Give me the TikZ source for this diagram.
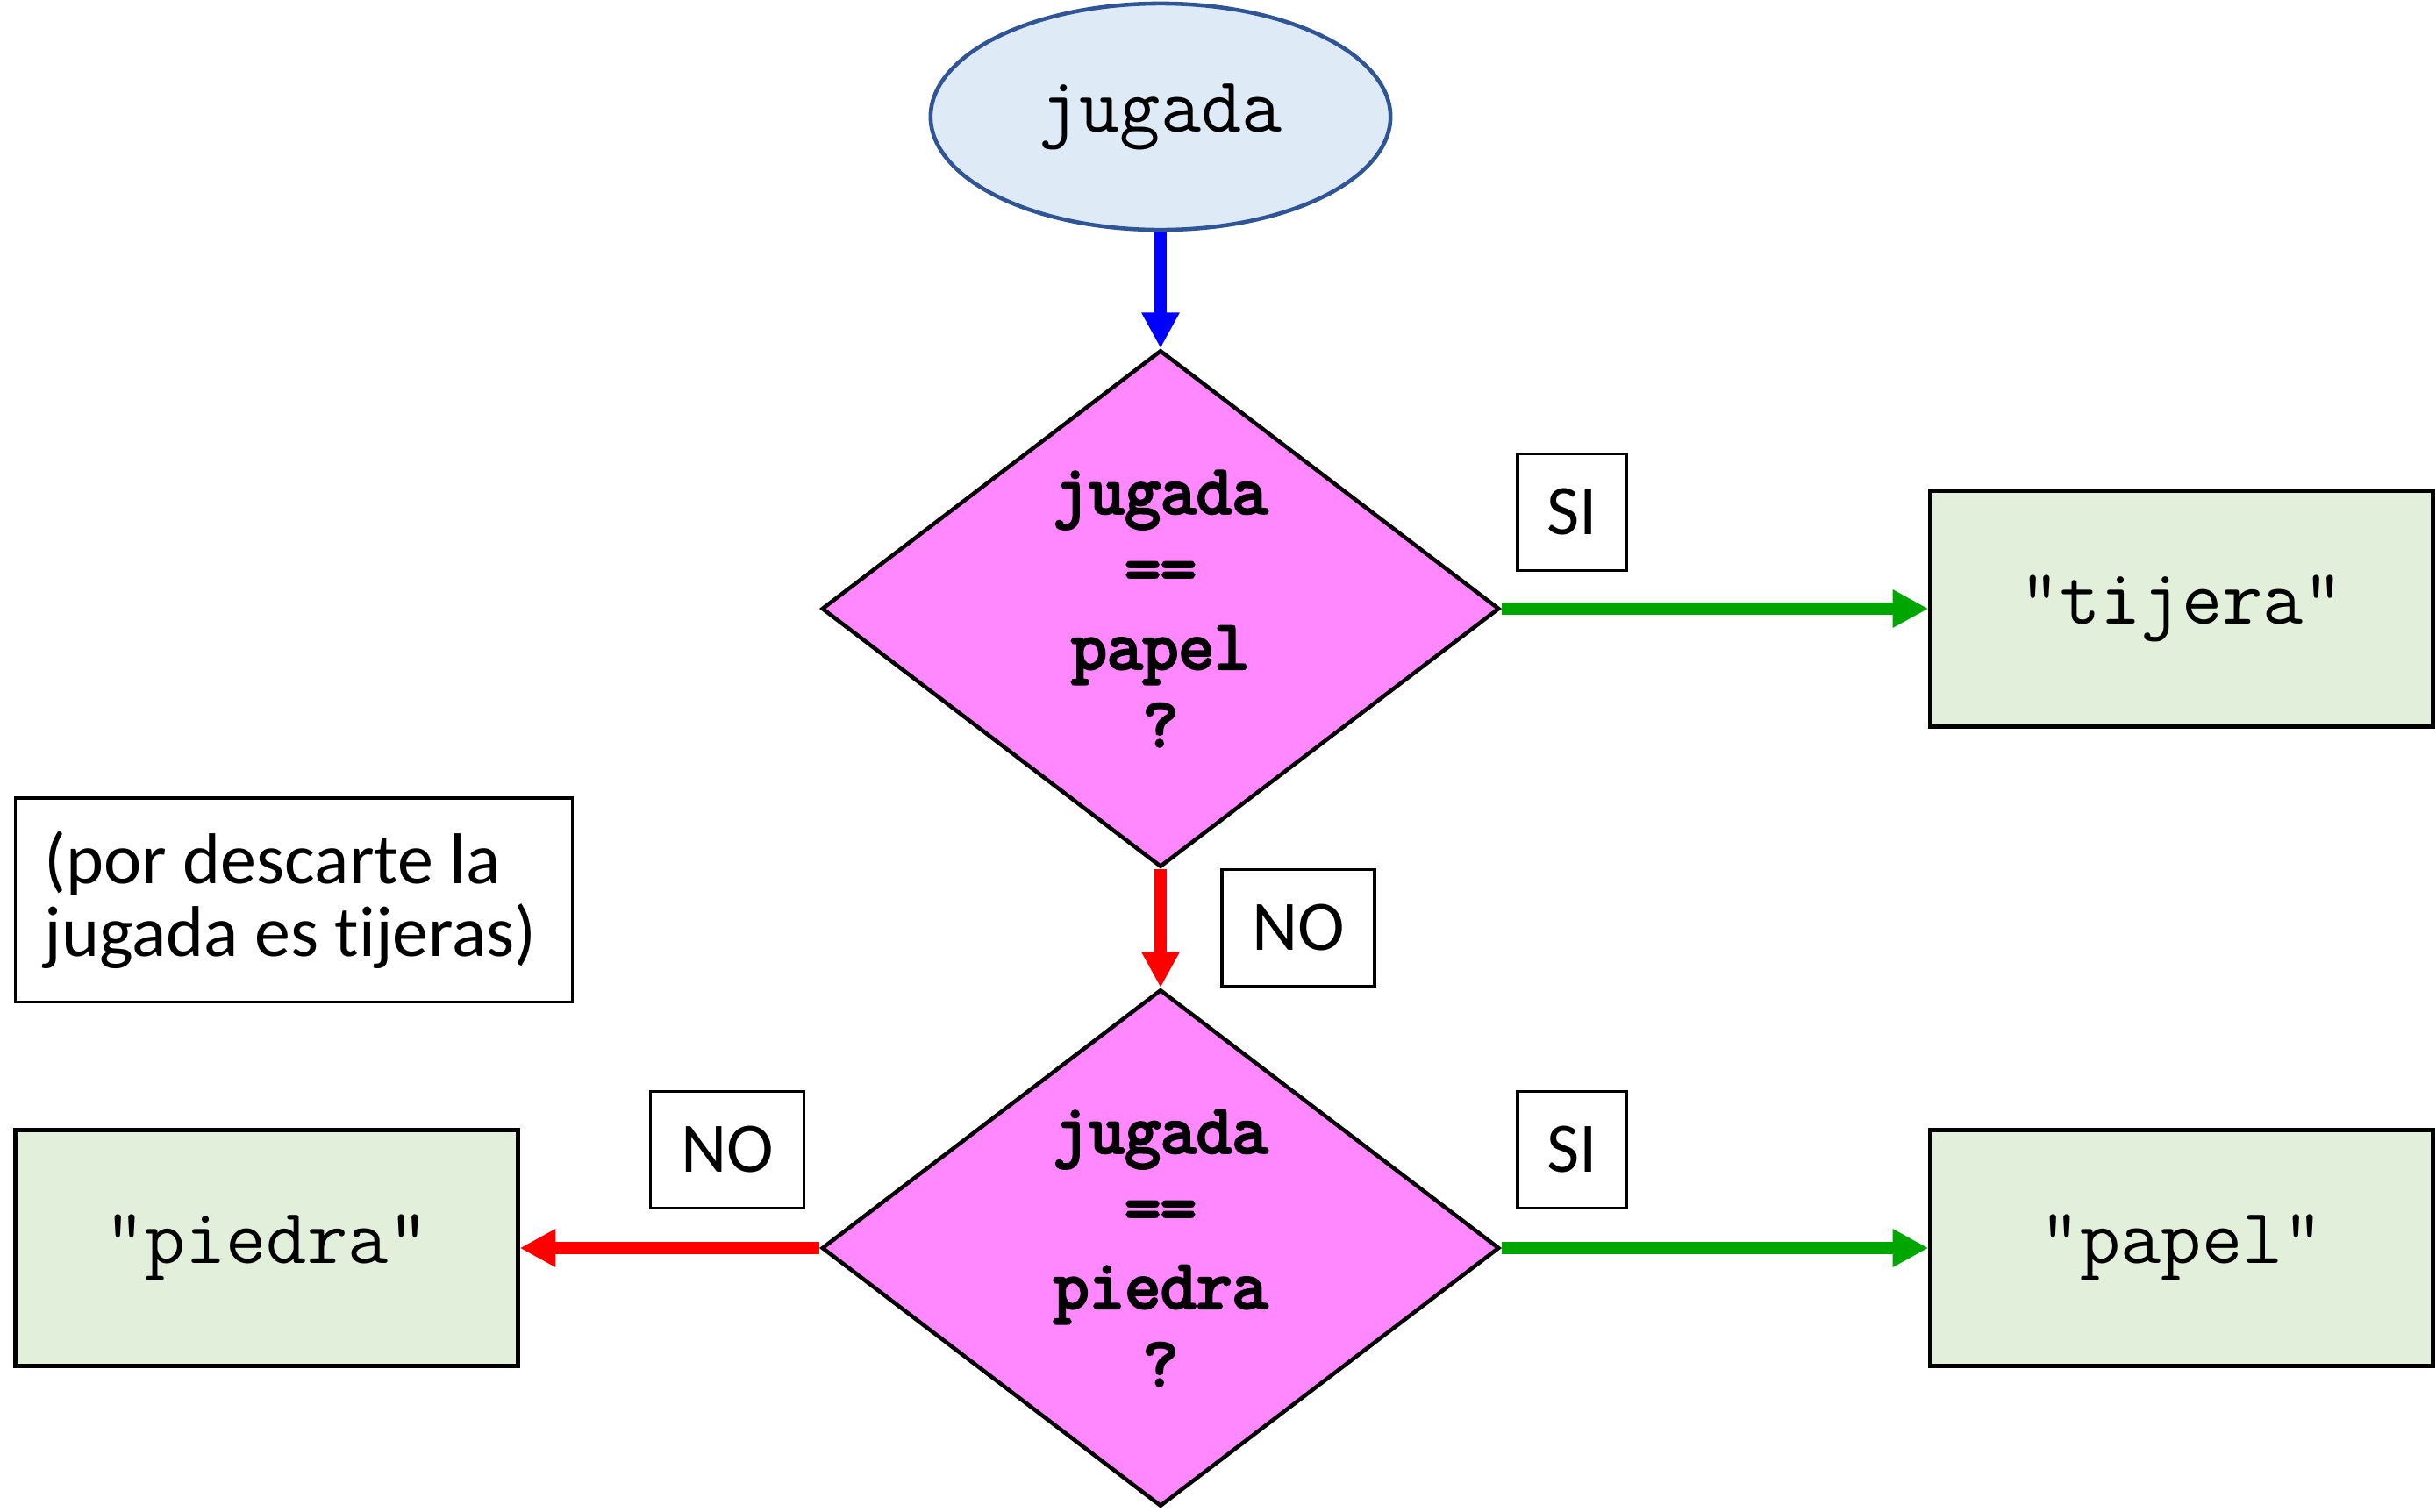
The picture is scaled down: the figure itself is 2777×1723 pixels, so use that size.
\documentclass[tikz,border=0pt]{standalone}
\usepackage{fontspec}
\setmainfont{Carlito}[Ligatures=NoCommon]
\setmonofont{Latin Modern Mono}
\newfontfamily\dfont{Latin Modern Mono}[FakeBold=4]
\usetikzlibrary{shapes.geometric,arrows.meta}
\definecolor{ellfill}{HTML}{DEEAF6}
\definecolor{elldraw}{HTML}{2F5597}
\definecolor{diafill}{HTML}{FF88FF}
\definecolor{boxfill}{HTML}{E2EFDA}
\definecolor{arrgreen}{HTML}{00A600}
\definecolor{arrred}{HTML}{FF0000}
\definecolor{arrblue}{HTML}{0000FF}
\tikzset{
  startnode/.style={ellipse, draw=elldraw, fill=ellfill, line width=1.3pt,
    minimum width=5.24cm, minimum height=2.58cm, inner sep=0pt,
    font=\fontsize{25.5}{29}\selectfont\ttfamily},
  decision/.style={diamond, draw=black, fill=diafill, line width=1.3pt,
    minimum width=7.72cm, minimum height=5.89cm, inner sep=0pt, aspect=1.31,
    align=center, font=\fontsize{22.5}{25.2}\selectfont\dfont},
  result/.style={rectangle, draw=black, fill=boxfill, line width=1.4pt,
    minimum width=5.72cm, minimum height=2.68cm, inner sep=0pt,
    font=\fontsize{25.5}{29}\selectfont\ttfamily},
  tag/.style={rectangle, draw=black, fill=white, line width=0.9pt,
    minimum height=1.33cm, inner sep=0pt,
    font=\fontsize{23}{28}\selectfont},
  note/.style={rectangle, draw=black, fill=white, line width=0.9pt,
    inner xsep=0.33cm, inner ysep=0pt,
    minimum width=6.34cm, minimum height=2.32cm, align=left,
    font=\fontsize{23.3}{28.2}\selectfont},
  flow/.style={line width=4pt, -{Triangle[length=11.6pt,width=11.6pt]}},
}
\begin{document}
\begin{tikzpicture}[x=0.01cm,y=-0.01cm]
\useasboundingbox (0,0) rectangle (2777,1723);
\node[startnode] (start) at (1323,133) {jugada};
\node[decision] (d1) at (1323,694) {jugada\\==\\papel\\?};
\node[decision] (d2) at (1323,1423) {jugada\\==\\piedra\\?};
\node[result] (tijera) at (2487,694) {"tijera"};
\node[result] (papel) at (2487,1423) {"papel"};
\node[result] (piedra) at (304,1423) {"piedra"};
\node[tag, minimum width=1.24cm] (si1) at (1792,584) {SI};
\node[tag, minimum width=1.24cm] (si2) at (1792,1311) {SI};
\node[tag, minimum width=1.74cm] (no1) at (1480,1058) {NO};
\node[tag, minimum width=1.75cm] (no2) at (829,1311) {NO};
\node[note] (nota) at (335,1026) {\makebox[5.68cm][l]{\shortstack[l]{(por descarte la\\jugada es tijeras)}}};
\draw[flow, arrblue] (start.south) -- (d1.north);
\draw[flow, arrgreen] (d1.east) -- (tijera.west);
\draw[flow, arrred] (d1.south) -- (d2.north);
\draw[flow, arrred] (d2.west) -- (piedra.east);
\draw[flow, arrgreen] (d2.east) -- (papel.west);
\end{tikzpicture}
\end{document}
